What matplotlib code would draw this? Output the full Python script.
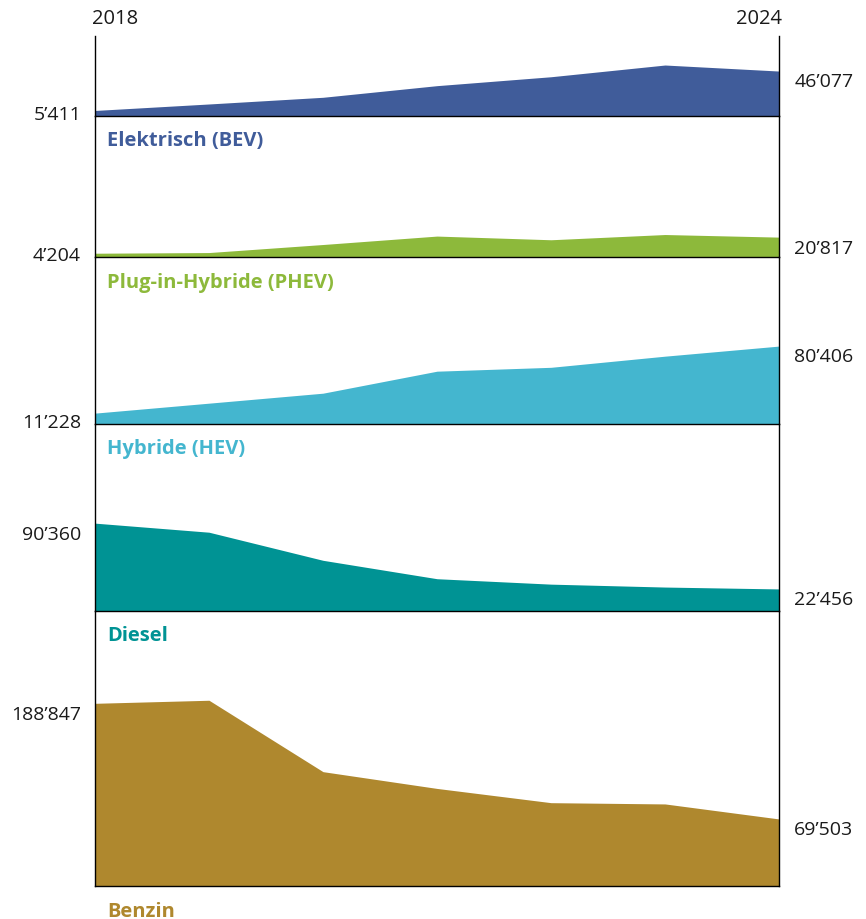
import matplotlib
matplotlib.use("Agg")
import matplotlib.pyplot as plt

plt.rcParams['font.family'] = ['Open Sans', 'DejaVu Sans']

years = [2018, 2019, 2020, 2021, 2022, 2023, 2024]
categories = ["Elektrisch (BEV)", "Plug-in-Hybride (PHEV)", "Hybride (HEV)", "Diesel", "Benzin"]
bev = [5411, 12100, 19000, 31000, 40200, 52300, 46077]
phev = [4204, 4900, 13200, 21900, 18100, 23500, 20817]
hev = [11228, 21500, 31800, 54500, 58500, 70000, 80406]
diesel = [90360, 81000, 52000, 33000, 27400, 24400, 22456]
benzin = [188847, 192000, 118300, 101000, 86300, 85000, 69503]
series = [bev, phev, hev, diesel, benzin]
colors = ['#405c9a', '#8db93b', '#44b6cf', '#009394', '#af882e']

def fmt(v):
    return f"{v:,}".replace(",", "\u2019")

W, H = 866, 920
fig = plt.figure(figsize=(W / 100, H / 100), dpi=100)

x0, x1 = 95, 779
bounds = [37, 116.7, 258.3, 425, 611.7, 887.3]
scale = 1032.0  # value per pixel

for i, (vals, col, name) in enumerate(zip(series, colors, categories)):
    top, bot = bounds[i], bounds[i + 1]
    ax = fig.add_axes([x0 / W, 1 - bot / H, (x1 - x0) / W, (bot - top) / H])
    ax.fill_between(years, 0, vals, color=col, lw=0)
    ax.set_xlim(years[0], years[-1])
    ax.set_ylim(0, (bot - top) * scale)
    ax.set_xticks([])
    ax.set_yticks([])
    ax.spines['top'].set_visible(False)
    for s in ['left', 'right', 'bottom']:
        ax.spines[s].set_linewidth(1.0)
        ax.spines[s].set_color('black')
    ax.patch.set_alpha(0)
    # left value label
    first = vals[0]
    ytop = max(first, 13 * scale)
    ax.annotate(fmt(first), xy=(years[0], ytop), xytext=(-10, -1.5),
                textcoords='offset points', ha='right', va='top',
                fontsize=14, color='#1a1a1a', annotation_clip=False)
    ax.annotate(fmt(vals[-1]), xy=(years[-1], vals[-1]), xytext=(11, -1.0),
                textcoords='offset points', ha='left', va='top',
                fontsize=14, color='#1a1a1a', annotation_clip=False)
    # series label below the baseline
    ax.annotate(name, xy=(years[0], 0), xytext=(8.5, -17.5),
                textcoords='offset points', ha='left', va='center',
                fontsize=14.5, fontweight='bold', color=col,
                annotation_clip=False)
    if i == 0:
        ax.annotate(str(years[0]), xy=(years[0], (bot - top) * scale),
                    xytext=(-2.5, 13.2), textcoords='offset points',
                    ha='left', va='center', fontsize=14.5, color='#1a1a1a',
                    annotation_clip=False)
        ax.annotate(str(years[-1]), xy=(years[-1], (bot - top) * scale),
                    xytext=(2.5, 13.2), textcoords='offset points',
                    ha='right', va='center', fontsize=14.5, color='#1a1a1a',
                    annotation_clip=False)

fig.savefig("out.png", dpi=100)
